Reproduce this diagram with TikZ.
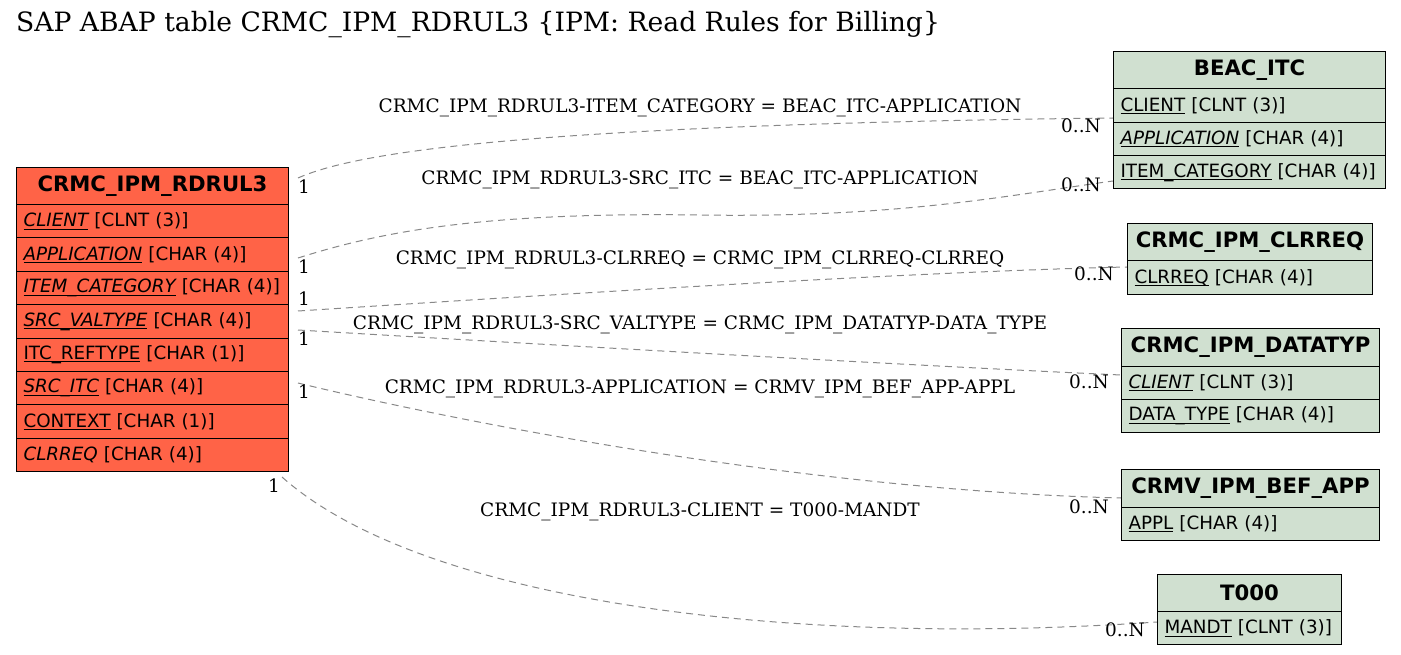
\documentclass[tikz,border=0pt]{standalone}
\usepackage{fontspec}
\setmainfont{DejaVu Serif}
\newfontfamily\tsans{DejaVu Sans}
\definecolor{tomatof}{RGB}{255,99,71}
\definecolor{greenf}{RGB}{208,224,208}
\definecolor{edgec}{RGB}{136,136,136}
\newsavebox{\ulnbox}
\newcommand{\uln}[1]{\sbox{\ulnbox}{#1}\rlap{\rule[-2.8pt]{\wd\ulnbox}{0.9pt}}\usebox{\ulnbox}}
\newcommand{\rowf}{\tsans\fontsize{18.3}{21}\selectfont}
\newcommand{\hdrf}{\tsans\bfseries\fontsize{21.2}{24}\selectfont}
\begin{document}
\begin{tikzpicture}[x=1pt,y=-1pt,
  cell/.style={draw=black, line width=1pt, anchor=north west, inner ysep=0pt, inner xsep=7pt},
  hdrm/.style={cell, fill=tomatof, minimum width=272pt, text width=258pt, minimum height=37pt, align=center, font=\hdrf},
  rowm/.style={cell, fill=tomatof, minimum width=272pt, text width=258pt, minimum height=33.4pt, align=left, font=\rowf},
  hdrg/.style={cell, fill=greenf, minimum width=#1, text width=#1-14pt, minimum height=37.5pt, align=center, font=\hdrf},
  rowg/.style={cell, fill=greenf, minimum width=#1, text width=#1-14pt, minimum height=33.3pt, align=left, font=\rowf},
  rel/.style={draw=edgec, line width=1pt, dash pattern=on 7pt off 5pt},
  lbl/.style={font=\fontsize{18.5}{21}\selectfont, inner sep=0pt, anchor=base},
  mult/.style={font=\fontsize{18.5}{21}\selectfont, inner sep=0pt}
]
\useasboundingbox (0,0) rectangle (1401,655);
\node[anchor=base west, inner sep=0pt, font=\fontsize{26.6}{30}\selectfont] (title) at (16,32) {SAP ABAP table CRMC\_IPM\_RDRUL3 \{IPM: Read Rules for Billing\}};

% connector end points
\coordinate (s1) at (298,178);
\coordinate (t1) at (1113,118);
\coordinate (s2) at (298,258);
\coordinate (m2) at (700,215);
\coordinate (t2) at (1113,181);
\coordinate (s3) at (298,311);
\coordinate (t3) at (1127,267);
\coordinate (s4) at (298,330);
\coordinate (t4) at (1121,375);
\coordinate (s5) at (298,383);
\coordinate (t5) at (1121,498);
\coordinate (s6) at (282,477);
\coordinate (t6) at (1157,622);

\draw[rel] (s1) .. controls (350,155) and (500,125) .. (t1);
\draw[rel] (s2) .. controls (380,232) and (480,212) .. (m2) .. controls (900,218) and (1010,195) .. (t2);
\draw[rel] (s3) .. controls (500,298) and (900,272) .. (t3);
\draw[rel] (s4) .. controls (500,342) and (900,365) .. (t4);
\draw[rel] (s5) .. controls (450,420) and (800,490) .. (t5);
\draw[rel] (s6) .. controls (420,600) and (780,648) .. (t6);

% main table
\node[hdrm] (m0) at (16,167) {CRMC\_IPM\_RDRUL3};
\node[rowm] (m1) at (16,204) {\uln{\itshape CLIENT} [CLNT (3)]};
\node[rowm] (m2r) at (16,237.4) {\uln{\itshape APPLICATION} [CHAR (4)]};
\node[rowm] (m3) at (16,270.8) {\uln{\itshape ITEM\_CATEGORY} [CHAR (4)]};
\node[rowm] (m4) at (16,304.2) {\uln{\itshape SRC\_VALTYPE} [CHAR (4)]};
\node[rowm] (m5) at (16,337.6) {\uln{ITC\_REFTYPE} [CHAR (1)]};
\node[rowm] (m6) at (16,371) {\uln{\itshape SRC\_ITC} [CHAR (4)]};
\node[rowm] (m7) at (16,404.4) {\uln{CONTEXT} [CHAR (1)]};
\node[rowm] (m8) at (16,437.8) {{\itshape CLRREQ} [CHAR (4)]};

% BEAC_ITC
\node[hdrg=272pt] (b0) at (1113,51) {BEAC\_ITC};
\node[rowg=272pt] (b1) at (1113,88.5) {\uln{CLIENT} [CLNT (3)]};
\node[rowg=272pt] (b2) at (1113,121.8) {\uln{\itshape APPLICATION} [CHAR (4)]};
\node[rowg=272pt] (b3) at (1113,155.1) {\uln{ITEM\_CATEGORY} [CHAR (4)]};

% CRMC_IPM_CLRREQ
\node[hdrg=245pt] (c0) at (1127,223) {CRMC\_IPM\_CLRREQ};
\node[rowg=245pt] (c1) at (1127,260.5) {\uln{CLRREQ} [CHAR (4)]};

% CRMC_IPM_DATATYP
\node[hdrg=258pt] (d0) at (1121,328) {CRMC\_IPM\_DATATYP};
\node[rowg=258pt] (d1) at (1121,365.5) {\uln{\itshape CLIENT} [CLNT (3)]};
\node[rowg=258pt] (d2) at (1121,398.8) {\uln{DATA\_TYPE} [CHAR (4)]};

% CRMV_IPM_BEF_APP
\node[hdrg=258pt] (v0) at (1121,469) {CRMV\_IPM\_BEF\_APP};
\node[rowg=258pt] (v1) at (1121,506.5) {\uln{APPL} [CHAR (4)]};

% T000
\node[hdrg=184pt] (z0) at (1157,574) {T000};
\node[rowg=184pt] (z1) at (1157,611) {\uln{MANDT} [CLNT (3)]};

% relation labels
\node[lbl] (l1) at (700,113) {CRMC\_IPM\_RDRUL3-ITEM\_CATEGORY = BEAC\_ITC-APPLICATION};
\node[lbl] (l2) at (700,185) {CRMC\_IPM\_RDRUL3-SRC\_ITC = BEAC\_ITC-APPLICATION};
\node[lbl] (l3) at (700,265) {CRMC\_IPM\_RDRUL3-CLRREQ = CRMC\_IPM\_CLRREQ-CLRREQ};
\node[lbl] (l4) at (700,329) {CRMC\_IPM\_RDRUL3-SRC\_VALTYPE = CRMC\_IPM\_DATATYP-DATA\_TYPE};
\node[lbl] (l5) at (700,393) {CRMC\_IPM\_RDRUL3-APPLICATION = CRMV\_IPM\_BEF\_APP-APPL};
\node[lbl] (l6) at (700,516) {CRMC\_IPM\_RDRUL3-CLIENT = T000-MANDT};

% multiplicities
\node[mult] (a1) at (304,187) {1};
\node[mult] (a2) at (304,267) {1};
\node[mult] (a3) at (304,299) {1};
\node[mult] (a4) at (304,339) {1};
\node[mult] (a5) at (304,392) {1};
\node[mult] (a6) at (274,486) {1};
\node[mult] (n1) at (1081,126) {0..N};
\node[mult] (n2) at (1081,185) {0..N};
\node[mult] (n3) at (1094,274) {0..N};
\node[mult] (n4) at (1089,382) {0..N};
\node[mult] (n5) at (1089,507) {0..N};
\node[mult] (n6) at (1125,630) {0..N};
\end{tikzpicture}
\end{document}
